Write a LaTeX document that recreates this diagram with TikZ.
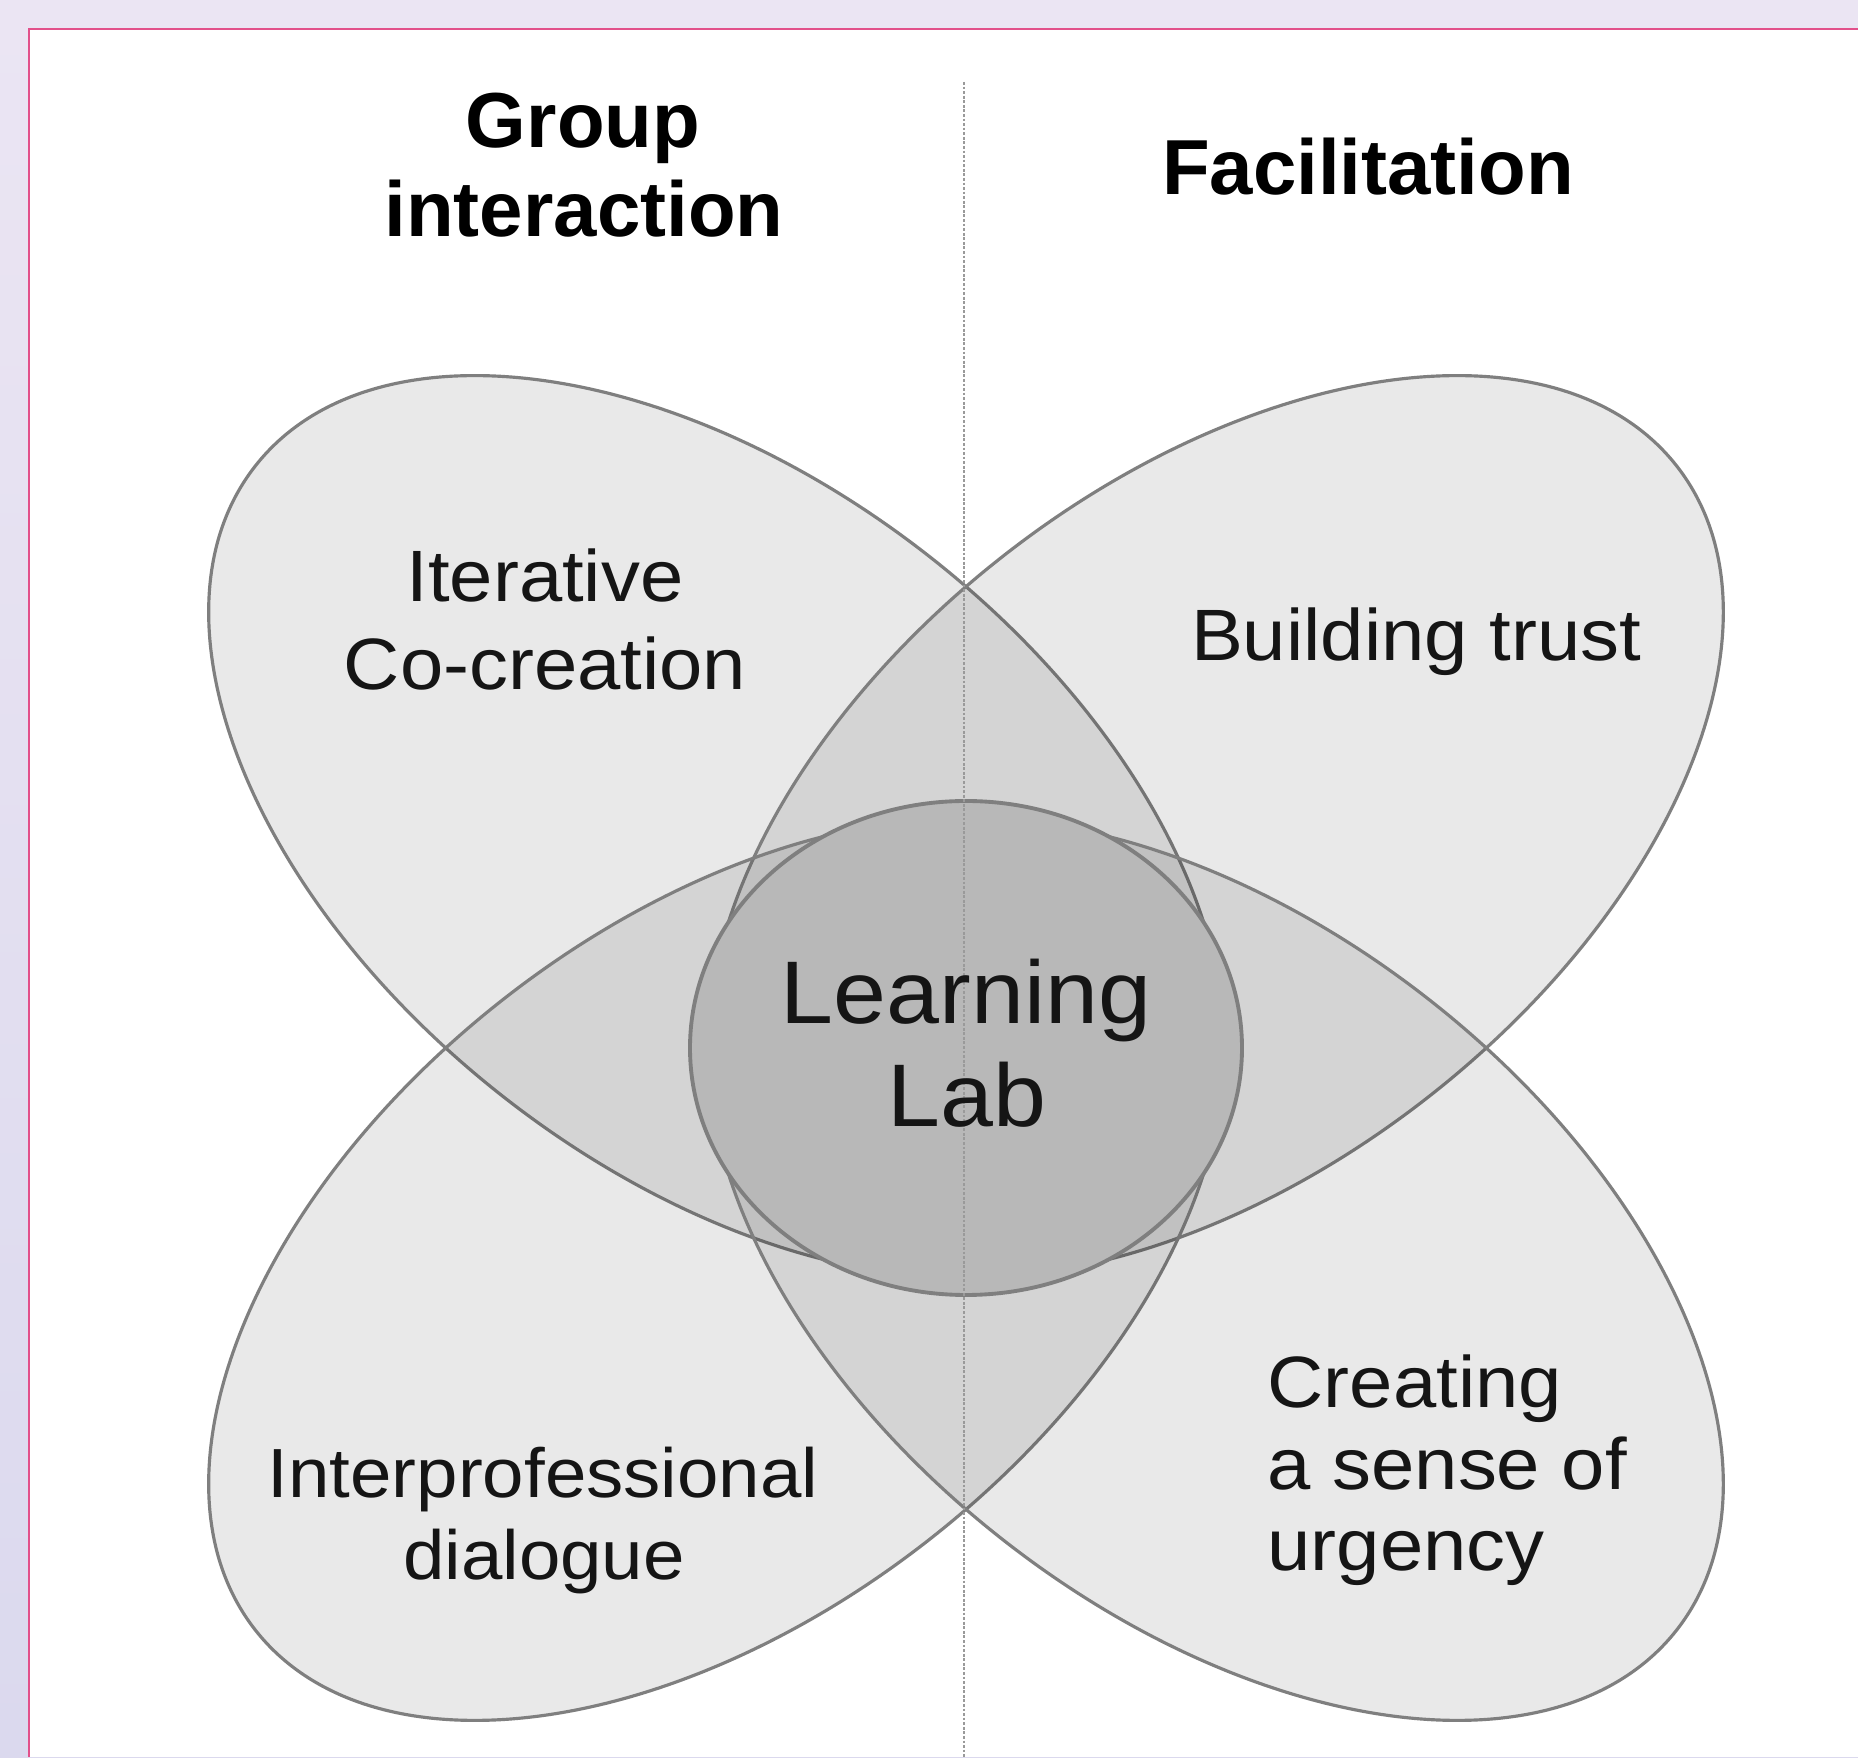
\documentclass[tikz,border=0pt]{standalone}
\usepackage{fontspec}
\usetikzlibrary{shapes.geometric}
\newfontfamily\bodyfont[FakeStretch=1.07]{Liberation Sans}
\newfontfamily\headfont{Liberation Sans}
\definecolor{bgtop}{HTML}{EBE5F3}
\definecolor{bgbot}{HTML}{DBD9EE}
\definecolor{frame}{HTML}{E2508A}
\definecolor{edge}{HTML}{7F7F7F}
\definecolor{core}{HTML}{B8B8B8}
\definecolor{divline}{HTML}{9A9A9A}
\definecolor{ink}{HTML}{151515}
\tikzset{
  petal/.style={ellipse, draw=edge, line width=0.9pt, fill=black, fill opacity=0.085,
    minimum width=11.7cm, minimum height=6.88cm, inner sep=0pt, outer sep=0pt},
  corecircle/.style={ellipse, draw=edge, line width=1.1pt, fill=core,
    minimum width=5.52cm, minimum height=4.94cm, inner sep=0pt, outer sep=0pt},
  divider/.style={draw=divline, line width=0.6pt, dash pattern=on 0.8pt off 0.5pt},
  head/.style={font=\headfont\bfseries\fontsize{22.2}{26}\selectfont, text=black, anchor=base, inner sep=0pt},
  label/.style={font=\bodyfont\fontsize{20.7}{24}\selectfont, text=ink, anchor=base, inner sep=0pt},
  smalllabel/.style={font=\bodyfont\fontsize{19.8}{23}\selectfont, text=ink, anchor=base, inner sep=0pt},
  biglabel/.style={font=\bodyfont\fontsize{25.3}{30}\selectfont, text=ink, anchor=base, inner sep=0pt},
}
\begin{document}
\begin{tikzpicture}
\useasboundingbox (0,0) rectangle (18.58,17.57);
% page background and framed white panel
\shade[top color=bgtop, bottom color=bgbot] (0,0) rectangle (18.58,17.57);
\fill[white] (0.29,0) rectangle (18.58,17.28);
\draw[frame, line width=0.7pt] (0.29,0) -- (0.29,17.28) -- (18.58,17.28);

% four overlapping petals
\node[petal, rotate=-38] (tl) at (7.161,9.306) {};
\node[petal, rotate=38]  (tr) at (12.159,9.306) {};
\node[petal, rotate=38]  (bl) at (7.161,4.874) {};
\node[petal, rotate=-38] (br) at (12.159,4.874) {};

% central core
\node[corecircle] (lab) at (9.66,7.09) {};

% dotted divider between the two halves
\coordinate (dtop) at (9.64,16.75);
\coordinate (dbot) at (9.64,0);
\draw[divider] (dtop) -- (dbot);

% column headings
\node[head] (g1) at (5.83,16.09) {Group};
\node[head] (g2) at (5.84,15.20) {interaction};
\node[head] (fac) at (13.68,15.62) {Facilitation};

% petal labels
\node[label] (it1) at (5.45,11.55) {Iterative};
\node[label] (it2) at (5.45,10.67) {Co-creation};
\node[label] (bt) at (14.16,10.96) {Building trust};
\node[smalllabel] (ip1) at (5.43,2.59) {Interprofessional};
\node[smalllabel] (ip2) at (5.44,1.77) {dialogue};
\node[label, anchor=base west] (cu1) at (12.67,3.49) {Creating};
\node[label, anchor=base west] (cu2) at (12.67,2.67) {a sense of};
\node[label, anchor=base west] (cu3) at (12.67,1.87) {urgency};

% core label
\node[biglabel] (ll1) at (9.66,7.33) {Learning};
\node[biglabel] (ll2) at (9.67,6.30) {Lab};
\end{tikzpicture}
\end{document}
